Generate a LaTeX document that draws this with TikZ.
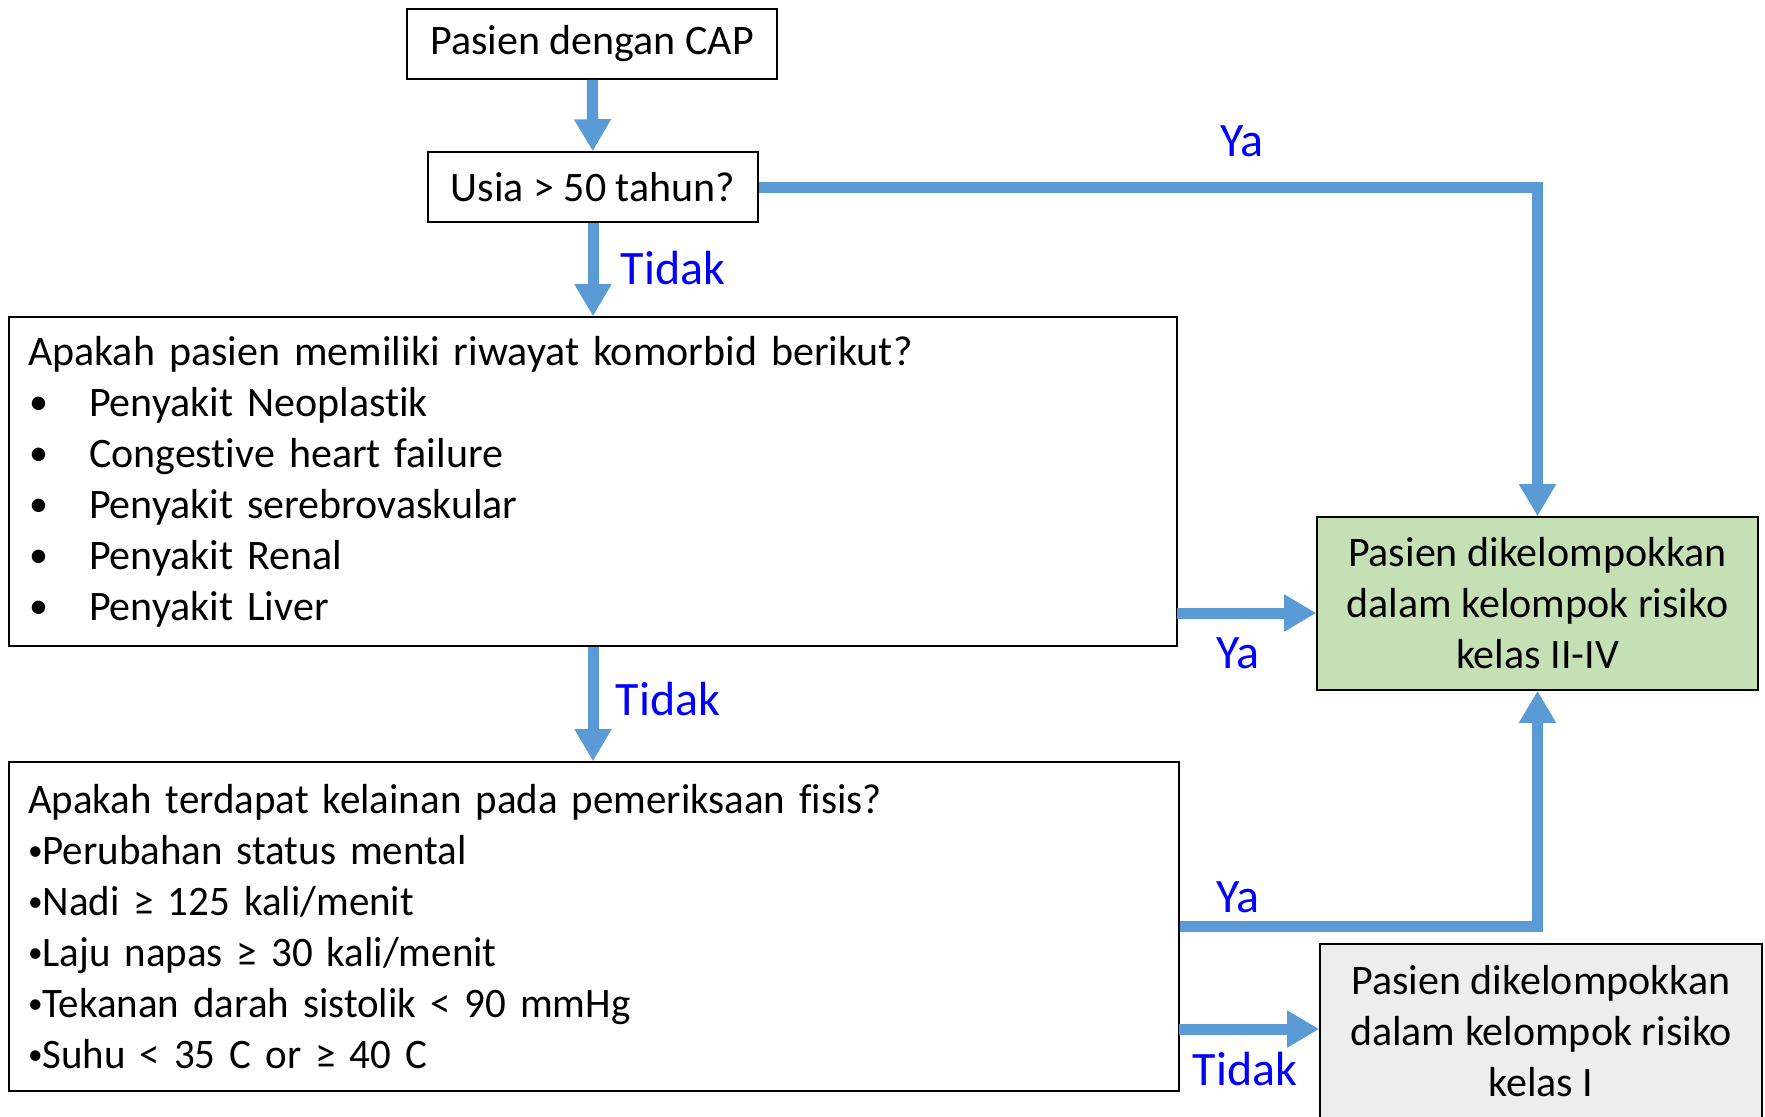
\documentclass[tikz,border=0pt]{standalone}
\usepackage{fontspec}
\setmainfont{Carlito}[Ligatures={NoCommon}]
\newfontfamily\narrowfont{Carlito}[Ligatures={NoCommon}, FakeStretch=0.975, WordSpace=0.8]
\usetikzlibrary{arrows.meta}
\definecolor{arrowblue}{RGB}{91,155,213}
\definecolor{labelblue}{RGB}{0,0,255}
\definecolor{greenfill}{RGB}{197,224,180}
\definecolor{greyfill}{RGB}{237,237,237}
\newcommand{\blt}{\hspace*{0.5pt}\makebox[30pt][l]{\raisebox{1pt}{\fontsize{19}{19}\selectfont •}}}
\newcommand{\sblt}{\raisebox{1.8pt}{\fontsize{15}{15}\selectfont •}}

\begin{document}
\begin{tikzpicture}[x=0.5pt,y=-0.5pt,
  box/.style={draw=black, line width=0.8pt, inner sep=0pt, align=center, font=\fontsize{21}{25.5}\selectfont},
  flow/.style={draw=arrowblue, line width=5.5pt, -{Triangle[width=17.5pt,length=16pt]}},
  lbl/.style={text=labelblue, inner sep=0pt, font=\fontsize{24}{28}\selectfont}]
\useasboundingbox (0,0) rectangle (1765,1116);

\node[box, minimum width=185pt, minimum height=35pt] (cap) at (592,44) {Pasien dengan CAP};
\node[box, minimum width=165pt, minimum height=35pt] (usia) at (593,187) {Usia > 50 tahun?};

\node[box, minimum width=584pt, minimum height=164.5pt, text width=565pt, inner xsep=9.5pt, align=left] (komorbid) at (593,481.5)
  {Apakah pasien memiliki riwayat komorbid berikut?\\
   \blt Penyakit Neoplastik\\
   \blt Congestive heart failure\\
   \blt Penyakit serebrovaskular\\
   \blt Penyakit Renal\\
   \blt Penyakit Liver};

\node[box, minimum width=585pt, minimum height=164.5pt, text width=566pt, inner xsep=9.5pt, align=left,
      font=\narrowfont\fontsize{21}{25.5}\selectfont] (fisik) at (594,926.5)
  {Apakah terdapat kelainan pada pemeriksaan fisis?\\
   \sblt Perubahan status mental\\
   \sblt Nadi ≥ 125 kali/menit\\
   \sblt Laju napas ≥ 30 kali/menit\\
   \sblt Tekanan darah sistolik < 90 mmHg\\
   \sblt Suhu < 35 C or ≥ 40 C};

\node[box, fill=greenfill, minimum width=220.5pt, minimum height=86.5pt] (kelas2) at (1537.5,603.5)
  {Pasien dikelompokkan\\dalam kelompok risiko\\kelas II-IV};
\node[box, fill=greyfill, minimum width=221pt, minimum height=87pt] (kelas1) at (1541,1031)
  {Pasien dikelompokkan\\dalam kelompok risiko\\kelas I};

\coordinate (yakomorbid) at (1177,613);
\coordinate (tidakfisik) at (1179,1029);

\draw[flow] (cap) -- (usia);
\draw[flow] (usia.south) -- (usia.south |- komorbid.north);
\draw[flow] (usia.east) -| (kelas2.north);
\draw[flow] (komorbid.south) -- (komorbid.south |- fisik.north);
\draw[flow] (yakomorbid) -- (yakomorbid -| kelas2.west);
\draw[flow] (fisik.east) -| (kelas2.south);
\draw[flow] (tidakfisik) -- (tidakfisik -| kelas1.west);

\node[lbl] (tidak1) at (673,268) {Tidak};
\node[lbl] (ya1) at (1242,141) {Ya};
\node[lbl] (tidak2) at (668,699) {Tidak};
\node[lbl] (ya2) at (1238,653) {Ya};
\node[lbl] (ya3) at (1238,897) {Ya};
\node[lbl] (tidak3) at (1245,1069) {Tidak};
\end{tikzpicture}
\end{document}
